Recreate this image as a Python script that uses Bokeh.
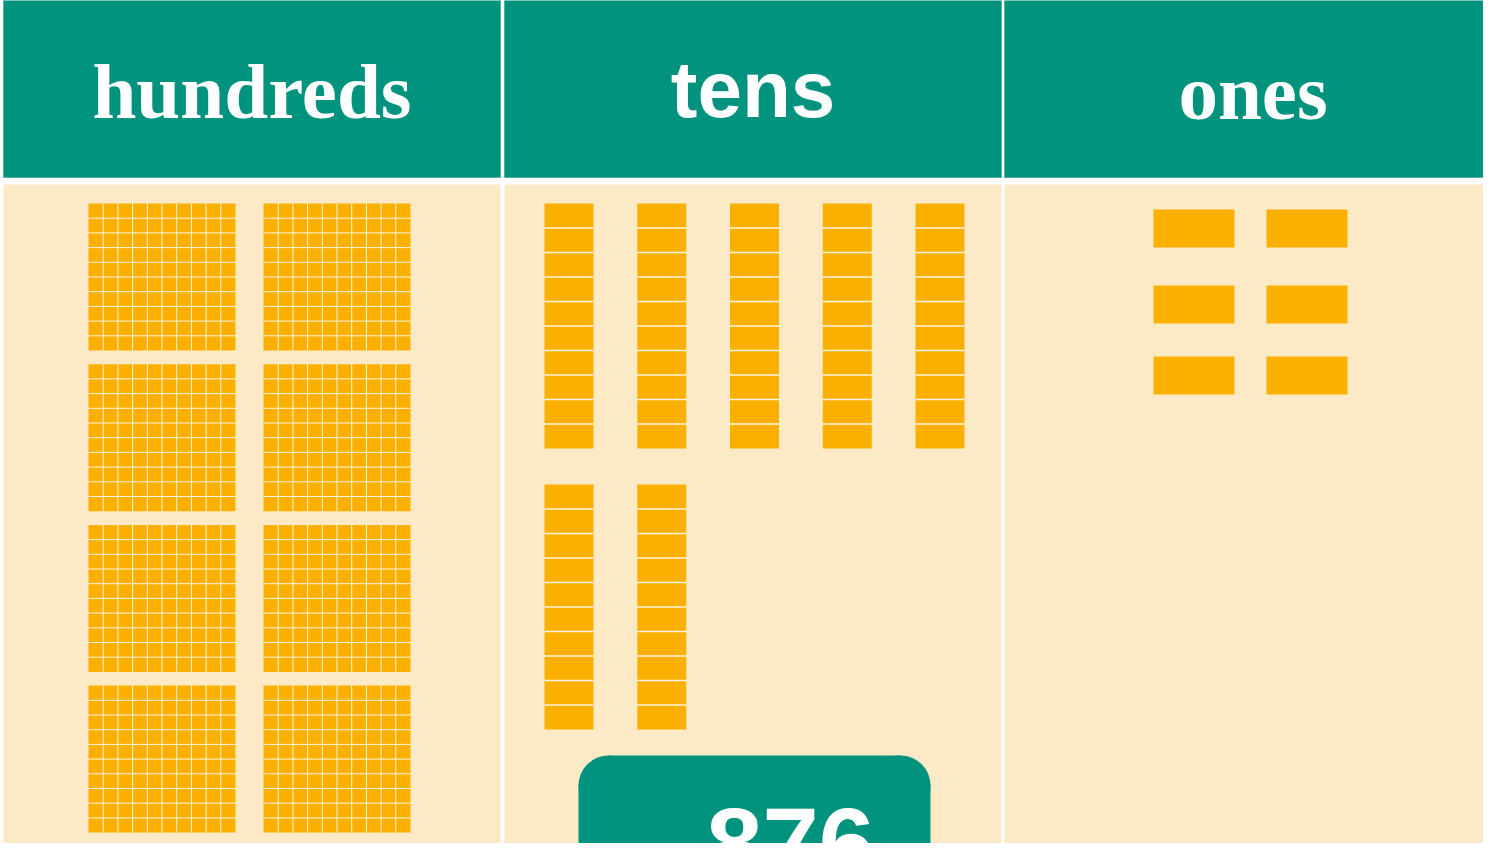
from bokeh.plotting import figure
from bokeh.models import Range1d
from bokeh.core.properties import value
from bokeh.embed import file_html
from bokeh.resources import INLINE

# ---- data ----
place_names = ["hundreds", "tens", "ones"]
place_digits = [8, 7, 6]
number_text = "876"

# ---- style / layout constants ----
TEAL = "#02937F"
CREAM = "#FCEAC6"
ORANGE = "#FBB000"
GRIDLINE = "#FFF6E2"
header_fonts = ["Liberation Serif", "Liberation Sans", "Liberation Serif"]
header_sizes = ["79px", "80px", "79px"]
header_y = [99, 97, 100]

W, H = 1483, 843
p = figure(width=W, height=H, x_range=Range1d(8, 8 + W), y_range=Range1d(8 + H, 8),
           output_backend="svg", toolbar_location=None, min_border=0,
           x_axis_location=None, y_axis_location=None)
p.grid.visible = False
p.outline_line_color = None
p.background_fill_color = "white"
p.border_fill_color = "white"

col_left = [11, 512, 1012]
col_w = 497
head_top, head_bot = 7, 185
body_top, body_bot = 192, 900

# column backgrounds
p.quad(left=col_left, right=[c + col_w for c in col_left], top=[head_top] * 3, bottom=[head_bot] * 3,
       fill_color=TEAL, line_color="#4FB3A6", line_width=1)
p.quad(left=col_left, right=[c + col_w for c in col_left], top=[body_top] * 3, bottom=[body_bot] * 3,
       fill_color=CREAM, line_color=None)

# header labels
for i, name in enumerate(place_names):
    p.text(x=[col_left[i] + col_w / 2], y=[header_y[i]], text=[name],
           text_font=value(header_fonts[i]), text_font_size=value(header_sizes[i]),
           text_font_style="bold", text_color="white", text_align="center",
           text_baseline="alphabetic")

# ---- hundreds: 10x10 flats ----
n_h = place_digits[0]
flat = 147
hx0, hy0, hdx, hdy = 96, 211, 175, 160.7
L, R, T, B = [], [], [], []
sx0, sy0, sx1, sy1 = [], [], [], []
for i in range(n_h):
    x0 = hx0 + (i % 2) * hdx
    y0 = hy0 + (i // 2) * hdy
    L.append(x0); R.append(x0 + flat); T.append(y0); B.append(y0 + flat)
    step = flat / 10
    for k in range(1, 10):
        sx0.append(x0 + k * step); sx1.append(x0 + k * step); sy0.append(y0); sy1.append(y0 + flat)
        sx0.append(x0); sx1.append(x0 + flat); sy0.append(y0 + k * step); sy1.append(y0 + k * step)
p.quad(left=L, right=R, top=T, bottom=B, fill_color=ORANGE, line_color=None)
p.segment(x0=sx0, y0=sy0, x1=sx1, y1=sy1, line_color=GRIDLINE, line_width=1)

# ---- tens: rods of 10 ----
n_t = place_digits[1]
rod_w, rod_h = 49, 245
tx0, ty0, tdx, tdy = 552, 211, 92.75, 281
L, R, T, B = [], [], [], []
sx0, sy0, sx1, sy1 = [], [], [], []
for i in range(n_t):
    x0 = tx0 + (i % 5) * tdx
    y0 = ty0 + (i // 5) * tdy
    L.append(x0); R.append(x0 + rod_w); T.append(y0); B.append(y0 + rod_h)
    step = rod_h / 10
    for k in range(1, 10):
        sx0.append(x0); sx1.append(x0 + rod_w); sy0.append(y0 + k * step); sy1.append(y0 + k * step)
p.quad(left=L, right=R, top=T, bottom=B, fill_color=ORANGE, line_color=None)
p.segment(x0=sx0, y0=sy0, x1=sx1, y1=sy1, line_color=GRIDLINE, line_width=1.5)

# ---- ones: units ----
n_o = place_digits[2]
unit_w, unit_h = 81, 38
ox0, odx = 1161, 113
ones_row_y = [217, 293, 364]
L, R, T, B = [], [], [], []
for i in range(n_o):
    x0 = ox0 + (i % 2) * odx
    y0 = ones_row_y[i // 2]
    L.append(x0); R.append(x0 + unit_w); T.append(y0); B.append(y0 + unit_h)
p.quad(left=L, right=R, top=T, bottom=B, fill_color=ORANGE, line_color=None)

# ---- number box (rounded rectangle built from quads + corner circles) ----
bl, br, bt, bb, rad = 586, 938, 763, 960, 30
p.quad(left=[bl, bl + rad], right=[br, br - rad], top=[bt + rad - 1, bt], bottom=[bb, bt + rad + 1],
       fill_color=TEAL, line_color=None)
p.circle(x=[bl + rad, br - rad], y=[bt + rad, bt + rad], radius=rad,
         fill_color=TEAL, line_color=None)
p.text(x=[798], y=[850], text=[number_text], text_font=value("Liberation Sans"),
       text_font_size=value("101px"), text_font_style="bold", text_color="white",
       text_align="center", text_baseline="alphabetic")

open("out.html", "w").write(file_html(p, INLINE))
